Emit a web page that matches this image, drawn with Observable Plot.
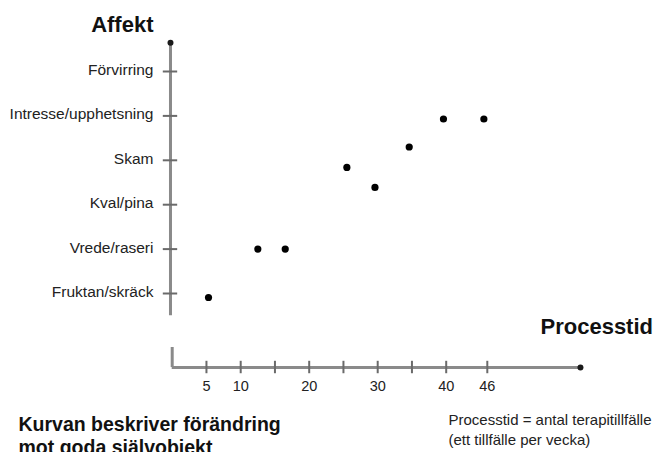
<!DOCTYPE html>
<html>
<head>
<meta charset="utf-8">
<script src="https://cdn.jsdelivr.net/npm/d3@7"></script>
<script src="https://cdn.jsdelivr.net/npm/@observablehq/plot@0.6"></script>
<style>
  html, body { margin: 0; padding: 0; background: #fff; }
  #chart svg { display: block; }
</style>
</head>
<body>
<div id="chart"></div>
<script>
// ---- Data ----
const affectLevels = [1, 2, 3, 4, 5, 6];
const affectLabels = ["Fruktan/skräck", "Vrede/raseri", "Kval/pina", "Skam", "Intresse/upphetsning", "Förvirring"];
const xTicks = [5, 10, 15, 20, 25, 30, 35, 40, 46];
const xTickLabels = [5, 10, 20, 30, 40, 46];
const sessions = [5.3, 12.5, 16.5, 25.5, 29.6, 34.6, 39.6, 45.5];
const affectValues = [0.91, 2.0, 2.0, 3.84, 3.39, 4.30, 4.93, 4.93];

const yTitle = "Affekt";
const xTitle = "Processtid";
const noteText = "Processtid = antal terapitillfälle\n(ett tillfälle per vecka)";
const captionText = "Kurvan beskriver förändring\nmot goda självobjekt";

// axis geometry in data units
const yAxisX = -0.25, yAxisTop = 6.65, yAxisBottom = 0.5;
const xAxisY = -0.667, xAxisEnd = 59.6, xStubTop = -0.216;

const points = sessions.map((s, i) => ({session: s, affect: affectValues[i]}));
const arrowTips = [{session: yAxisX, affect: yAxisTop}, {session: xAxisEnd, affect: xAxisY}];

const font = "'Liberation Sans', Arial, Helvetica, sans-serif";
const axisColor = "#8a8a8a";
const tickColor = "#6a6a6a";
const textColor = "#222";

const chart = Plot.plot({
  width: 655,
  height: 452,
  margin: 0,
  style: {fontFamily: font, background: "#fff", overflow: "hidden"},
  x: {type: "linear", domain: [0, 46], range: [171.7, 171.7 + 46 * 6.85], axis: null},
  y: {type: "linear", domain: [1, 6], range: [293, 71], axis: null},
  marks: [
    // y axis line
    Plot.ruleX([yAxisX], {x: d => d, y1: yAxisBottom, y2: yAxisTop, stroke: axisColor, strokeWidth: 3}),
    // y ticks
    Plot.ruleY(affectLevels, {y: d => d, x1: yAxisX - 1.05, x2: yAxisX + 1.05, stroke: tickColor, strokeWidth: 2}),
    // x axis line
    Plot.ruleY([xAxisY], {y: d => d, x1: 0, x2: xAxisEnd, stroke: axisColor, strokeWidth: 3}),
    // x axis corner stub
    Plot.ruleX([0], {x: d => d, y1: xAxisY, y2: xStubTop, stroke: axisColor, strokeWidth: 3}),
    // x ticks
    Plot.ruleX(xTicks, {x: d => d, y1: xAxisY - 0.14, y2: xAxisY + 0.14, stroke: tickColor, strokeWidth: 2}),
    // arrow tips
    Plot.dot(arrowTips, {x: "session", y: "affect", r: 3, fill: "#1a1a1a", stroke: null}),
    // y tick labels
    Plot.text(affectLevels, {x: yAxisX, y: d => d, text: (d, i) => affectLabels[i], textAnchor: "end", lineAnchor: "middle", dx: -17, dy: -1.5, fontSize: 15.5, fill: textColor}),
    // x tick labels
    Plot.text(xTickLabels, {x: d => d, y: xAxisY, text: d => String(d), textAnchor: "middle", lineAnchor: "bottom", dy: 23, fontSize: 14.5, fill: textColor}),
    // data points
    Plot.dot(points, {x: "session", y: "affect", r: 3.6, fill: "#000", stroke: null}),
    // titles
    Plot.text([yTitle], {frameAnchor: "top-left", text: d => d, dx: 153, dy: 31, textAnchor: "end", lineAnchor: "bottom", fontSize: 22, fontWeight: "bold", fill: "#111"}),
    Plot.text([xTitle], {frameAnchor: "top-left", text: d => d, dx: 540, dy: 333, textAnchor: "start", lineAnchor: "bottom", fontSize: 22, fontWeight: "bold", fill: "#111"}),
    Plot.text([noteText], {frameAnchor: "top-left", text: d => d, dx: 448, dy: 444, textAnchor: "start", lineAnchor: "bottom", fontSize: 15, lineHeight: 1.27, fill: textColor}),
    Plot.text([captionText], {frameAnchor: "top-left", text: d => d, dx: 18, dy: 453, textAnchor: "start", lineAnchor: "bottom", fontSize: 19.5, lineHeight: 1.13, fontWeight: "bold", fill: "#111"})
  ]
});

document.getElementById("chart").appendChild(chart);
</script>
</body>
</html>
